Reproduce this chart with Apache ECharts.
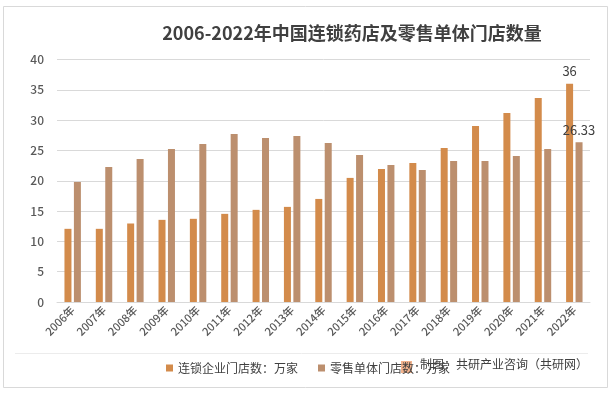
<!DOCTYPE html>
<html>
<head>
<meta charset="utf-8">
<script src="https://cdn.jsdelivr.net/npm/echarts@6/dist/echarts.min.js"></script>
<style>
html,body{margin:0;padding:0;background:#fff;}
#c{width:613px;height:393px;}
</style>
</head>
<body>
<div id="c"></div>
<script>
const categories = ['2006年','2007年','2008年','2009年','2010年','2011年','2012年','2013年','2014年','2015年','2016年','2017年','2018年','2019年','2020年','2021年','2022年'];
const chainStores = [12.07, 12.07, 12.95, 13.55, 13.72, 14.54, 15.2, 15.69, 17.0, 20.47, 21.95, 22.94, 25.4, 29.03, 31.17, 33.63, 36];
const singleStores = [19.8, 22.28, 23.6, 25.24, 26.06, 27.71, 27.05, 27.38, 26.23, 24.25, 22.6, 21.78, 23.27, 23.27, 24.09, 25.24, 26.33];
const yTicks = [0, 5, 10, 15, 20, 25, 30, 35, 40];
const seriesNames = ['连锁企业门店数：万家', '零售单体门店数：万家'];
const titleText = '2006-2022年中国连锁药店及零售单体门店数量';
const sourceText = '制图：共研产业咨询（共研网）';

const FONT = '"Noto Sans CJK SC", "Noto Sans", sans-serif';
function withLastLabel(arr) {
  return arr.map((v, i) => i === arr.length - 1
    ? { value: v, label: { show: true, position: 'top', distance: 6, color: '#404040', fontSize: 13, fontFamily: FONT } }
    : v);
}

const chart = echarts.init(document.getElementById('c'), null, { renderer: 'canvas' });
chart.setOption({
  animation: false,
  backgroundColor: '#ffffff',
  textStyle: { fontFamily: FONT },
  title: {
    text: titleText,
    left: 347, top: 19, textAlign: 'center',
    textStyle: { fontSize: 18, fontWeight: 'bold', color: '#404040', fontFamily: FONT }
  },
  legend: {
    left: 161, top: 357,
    itemWidth: 7, itemHeight: 7, itemGap: 20,
    icon: 'rect',
    textStyle: { fontSize: 12, color: '#404040', fontFamily: FONT },
    data: seriesNames
  },
  grid: { left: 57, right: 23, top: 59.5, bottom: 91, containLabel: false },
  xAxis: {
    type: 'category',
    data: categories,
    axisLine: { show: true, lineStyle: { color: '#d9d9d9' } },
    axisTick: { show: false },
    axisLabel: { rotate: 45, fontSize: 11, fontWeight: 500, color: '#595959', margin: 6, interval: 0, fontFamily: FONT }
  },
  yAxis: {
    type: 'value',
    min: yTicks[0], max: yTicks[yTicks.length - 1], interval: 5,
    axisLine: { show: false },
    axisTick: { show: false },
    axisLabel: { fontSize: 12, fontWeight: 500, color: '#595959', margin: 13, fontFamily: FONT },
    splitLine: { lineStyle: { color: '#d9d9d9' } }
  },
  series: [
    { name: seriesNames[0], type: 'bar', data: withLastLabel(chainStores), barWidth: 7, barGap: '35%', itemStyle: { color: '#D38B4B' } },
    { name: seriesNames[1], type: 'bar', data: withLastLabel(singleStores), barWidth: 7, itemStyle: { color: '#BC8F6E' } }
  ],
  graphic: [
    { type: 'rect', shape: { x: 3.5, y: 6.5, width: 604, height: 381 }, style: { fill: 'none', stroke: '#d9d9d9', lineWidth: 1 }, silent: true },
    { type: 'line', shape: { x1: 15, y1: 353.5, x2: 588, y2: 353.5 }, style: { stroke: '#ececec', lineWidth: 1 }, silent: true },
    { type: 'rect', shape: { x: 401, y: 361, width: 11, height: 12 }, style: { fill: '#f0a070', opacity: 0.8 }, silent: true },
    { type: 'text', left: 420, top: 358, style: { text: sourceText, fontSize: 12, fill: '#404040', fontFamily: FONT }, silent: true }
  ]
});
</script>
</body>
</html>
